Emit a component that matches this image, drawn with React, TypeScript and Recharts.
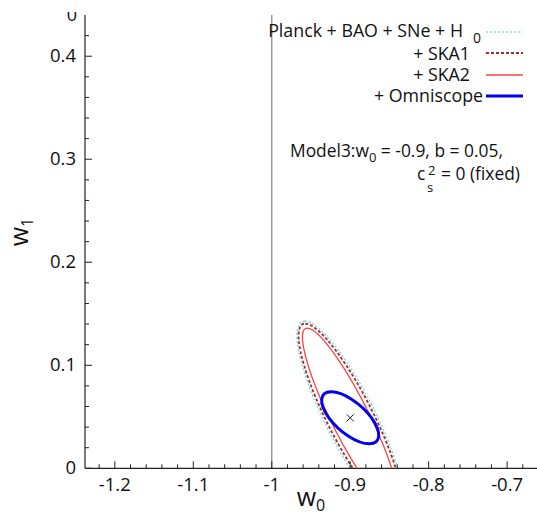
import React from 'react';
import { ScatterChart, Scatter, XAxis, YAxis, ReferenceLine } from 'recharts';

const FONT = "'Open Sans', 'DejaVu Sans', sans-serif";
const AXIS = '#222222';

// ---- data ----
const seriesNames = ['Planck + BAO + SNe + H', '+ SKA1', '+ SKA2', '+ Omniscope'];
const seriesColors = ['#55d6da', '#a52a2a', '#ff4040', '#0000ee'];
const seriesDash = ['2 2', '3 2', '', ''];
const seriesWidth = [1.1, 1.8, 1.3, 3];

const fiducialW0 = -0.9;
const fiducialW1 = 0.049;
// each contour: offset of its highest point from the fiducial, and its horizontal half-width through the fiducial
const topOffsetW0 = [-0.0579, -0.0573, -0.0547, -0.0242];
const topOffsetW1 = [0.0939, 0.0915, 0.0871, 0.0252];
const halfWidthW0 = [0.0356, 0.0324, 0.0267, 0.0272];

const w0Domain = [-1.238, -0.66];
const w1Domain = [0, 0.44];
const xTicks = [-1.22, -1.2, -1.18, -1.16, -1.14, -1.12, -1.1, -1.08, -1.06, -1.04, -1.02, -1, -0.98, -0.96, -0.94, -0.92, -0.9, -0.88, -0.86, -0.84, -0.82, -0.8, -0.78, -0.76, -0.74, -0.72, -0.7, -0.68];
const xMajor = [-1.2, -1.1, -1, -0.9, -0.8, -0.7];
const xLabels = ['-1.2', '-1.1', '-1', '-0.9', '-0.8', '-0.7'];
const yTicks = [0, 0.02, 0.04, 0.06, 0.08, 0.1, 0.12, 0.14, 0.16, 0.18, 0.2, 0.22, 0.24, 0.26, 0.28, 0.3, 0.32, 0.34, 0.36, 0.38, 0.4, 0.42];
const yMajor = [0, 0.1, 0.2, 0.3, 0.4];
const yLabels = ['0', '0.1', '0.2', '0.3', '0.4'];

const contourData = seriesNames.map((_, i) => [
  { w0: fiducialW0, w1: fiducialW1 },
  { w0: fiducialW0 + topOffsetW0[i], w1: fiducialW1 + topOffsetW1[i] },
  { w0: fiducialW0 + halfWidthW0[i], w1: fiducialW1 },
]);
const centerData = [{ w0: fiducialW0, w1: fiducialW1 }];

const majorIndex = (v: number, list: number[]) => list.findIndex((m) => Math.abs(m - v) < 1e-6);

const K = 0.5523;
function ellipsePath(pts: { x: number; y: number }[]) {
  if (!pts || pts.length < 3) return '';
  const [c, p1, p2] = pts;
  const a = { x: p1.x - c.x, y: p1.y - c.y };
  const b = { x: p2.x - c.x, y: p2.y - c.y };
  const P = (u: number, v: number) => `${c.x + u * a.x + v * b.x},${c.y + u * a.y + v * b.y}`;
  return `M${P(1, 0)} C${P(1, K)} ${P(K, 1)} ${P(0, 1)} C${P(-K, 1)} ${P(-1, K)} ${P(-1, 0)} C${P(-1, -K)} ${P(-K, -1)} ${P(0, -1)} C${P(K, -1)} ${P(1, -K)} ${P(1, 0)} Z`;
}

const renderBottomTick = (p: any) => {
  const idx = majorIndex(p.payload.value, xMajor);
  const major = idx >= 0;
  return (
    <g key={`b${p.index}`}>
      <line x1={p.x} x2={p.x} y1={p.y} y2={p.y - (major ? 7 : 4)} stroke={AXIS} strokeWidth={1} />
      {major && (
        <text x={p.x} y={p.y + 23} textAnchor="middle" fontSize={18.5} fontFamily={FONT} fill="#111">
          {xLabels[idx]}
        </text>
      )}
    </g>
  );
};
const renderTopTick = (p: any) => {
  const major = majorIndex(p.payload.value, xMajor) >= 0;
  return <line key={`t${p.index}`} x1={p.x} x2={p.x} y1={p.y} y2={p.y + (major ? 7 : 4)} stroke={AXIS} strokeWidth={1} />;
};
const renderLeftTick = (p: any) => {
  const idx = majorIndex(p.payload.value, yMajor);
  const major = idx >= 0;
  return (
    <g key={`l${p.index}`}>
      <line x1={p.x} x2={p.x + (major ? 7 : 4)} y1={p.y} y2={p.y} stroke={AXIS} strokeWidth={1} />
      {major && (
        <text x={p.x - 9} y={p.y + 6} textAnchor="end" fontSize={18.5} fontFamily={FONT} fill="#111">
          {yLabels[idx]}
        </text>
      )}
    </g>
  );
};
const renderRightTick = (p: any) => {
  const major = majorIndex(p.payload.value, yMajor) >= 0;
  return <line key={`r${p.index}`} x1={p.x} x2={p.x - (major ? 7 : 4)} y1={p.y} y2={p.y} stroke={AXIS} strokeWidth={1} />;
};

const legendRows = [
  { textEnd: 463, base: 37, lineY: 32 },
  { textEnd: 470, base: 60, lineY: 53 },
  { textEnd: 470, base: 81, lineY: 75 },
  { textEnd: 483, base: 102, lineY: 96 },
];

export default function App() {
  return (
    <div style={{ position: 'absolute', left: 0, top: 0, width: 537, height: 515, overflow: 'hidden', background: '#fff' }}>
      <ScatterChart width={560} height={515} margin={{ top: 15, right: 21.5, bottom: 0, left: 0 }}>
        <XAxis
          xAxisId={0}
          dataKey="w0"
          type="number"
          domain={w0Domain}
          allowDataOverflow
          ticks={xTicks}
          interval={0}
          tickSize={0}
          tickMargin={0}
          tickLine={false}
          axisLine={{ stroke: AXIS, strokeWidth: 1.2 }}
          tick={renderBottomTick}
          height={46.7}
        />
        <XAxis
          xAxisId="top"
          orientation="top"
          type="number"
          domain={w0Domain}
          allowDataOverflow
          ticks={xTicks}
          interval={0}
          tickSize={0}
          tickMargin={0}
          tickLine={false}
          axisLine={{ stroke: AXIS, strokeWidth: 1.2 }}
          tick={renderTopTick}
          height={0}
        />
        <YAxis
          yAxisId={0}
          dataKey="w1"
          type="number"
          domain={w1Domain}
          allowDataOverflow
          ticks={yTicks}
          interval={0}
          tickSize={0}
          tickMargin={0}
          tickLine={false}
          axisLine={{ stroke: AXIS, strokeWidth: 1.2 }}
          tick={renderLeftTick}
          width={85}
        />
        <YAxis
          yAxisId="right"
          orientation="right"
          type="number"
          domain={w1Domain}
          allowDataOverflow
          ticks={yTicks}
          interval={0}
          tickSize={0}
          tickMargin={0}
          tickLine={false}
          axisLine={{ stroke: AXIS, strokeWidth: 1.2 }}
          tick={renderRightTick}
          width={0}
        />
        <ReferenceLine x={-1} stroke="#9a9a9a" strokeWidth={1.5} />
        {seriesNames.map((name, i) => (
          <Scatter
            key={name}
            name={name}
            data={contourData[i]}
            dataKey="w1"
            isAnimationActive={false}
            legendType="none"
            lineType="joint"
            shape={() => <g />}
            line={(lp: any) => (
              <path
                d={ellipsePath(lp.points)}
                fill="none"
                stroke={seriesColors[i]}
                strokeWidth={seriesWidth[i]}
                strokeDasharray={seriesDash[i] || undefined}
              />
            )}
          />
        ))}
        <Scatter
          name="fiducial"
          data={centerData}
          dataKey="w1"
          isAnimationActive={false}
          legendType="none"
          shape={(p: any) => (
            <g>
              <line x1={p.cx - 3.5} x2={p.cx + 3.5} y1={p.cy - 3.5} y2={p.cy + 3.5} stroke="#222" strokeWidth={1} />
              <line x1={p.cx - 3.5} x2={p.cx + 3.5} y1={p.cy + 3.5} y2={p.cy - 3.5} stroke="#222" strokeWidth={1} />
            </g>
          )}
        />
      </ScatterChart>
      <svg width={537} height={515} style={{ position: 'absolute', left: 0, top: 0, pointerEvents: 'none' }} fontFamily={FONT}>
        <defs>
          <clipPath id="cutTop">
            <rect x={0} y={12} width={100} height={30} />
          </clipPath>
        </defs>
        <text x={77} y={21} textAnchor="end" fontSize={18} fill="#111" clipPath="url(#cutTop)">0</text>
        {/* legend */}
        {seriesNames.map((name, i) => (
          <g key={name}>
            <text x={legendRows[i].textEnd} y={legendRows[i].base} textAnchor="end" fontSize={17.8} fill="#111">{name}</text>
            <line
              x1={486}
              x2={523}
              y1={legendRows[i].lineY}
              y2={legendRows[i].lineY}
              stroke={seriesColors[i]}
              strokeWidth={seriesWidth[i]}
              strokeDasharray={seriesDash[i] || undefined}
            />
          </g>
        ))}
        <text x={473} y={43} fontSize={14} fill="#111">0</text>
        {/* annotation */}
        <text x={290} y={157} fontSize={17.4} fill="#111">
          Model3:w<tspan dy={5} fontSize={13}>0</tspan>
          <tspan dy={-5}> = -0.9, b = 0.05,</tspan>
        </text>
        <text x={417} y={180} fontSize={17.4} fill="#111">c</text>
        <text x={427} y={192} fontSize={13} fill="#111">s</text>
        <text x={428} y={175} fontSize={13} fill="#111">2</text>
        <text x={441} y={180} fontSize={17.4} fill="#111">= 0 (fixed)</text>
        {/* axis titles */}
        <text x={311} y={506} textAnchor="middle" fontSize={25} fill="#111">
          w<tspan dy={5} fontSize={16}>0</tspan>
        </text>
        <text x={28} y={232} textAnchor="middle" fontSize={25} fill="#111" transform="rotate(-90, 28, 232)">
          w<tspan dy={5} fontSize={16}>1</tspan>
        </text>
      </svg>
    </div>
  );
}
